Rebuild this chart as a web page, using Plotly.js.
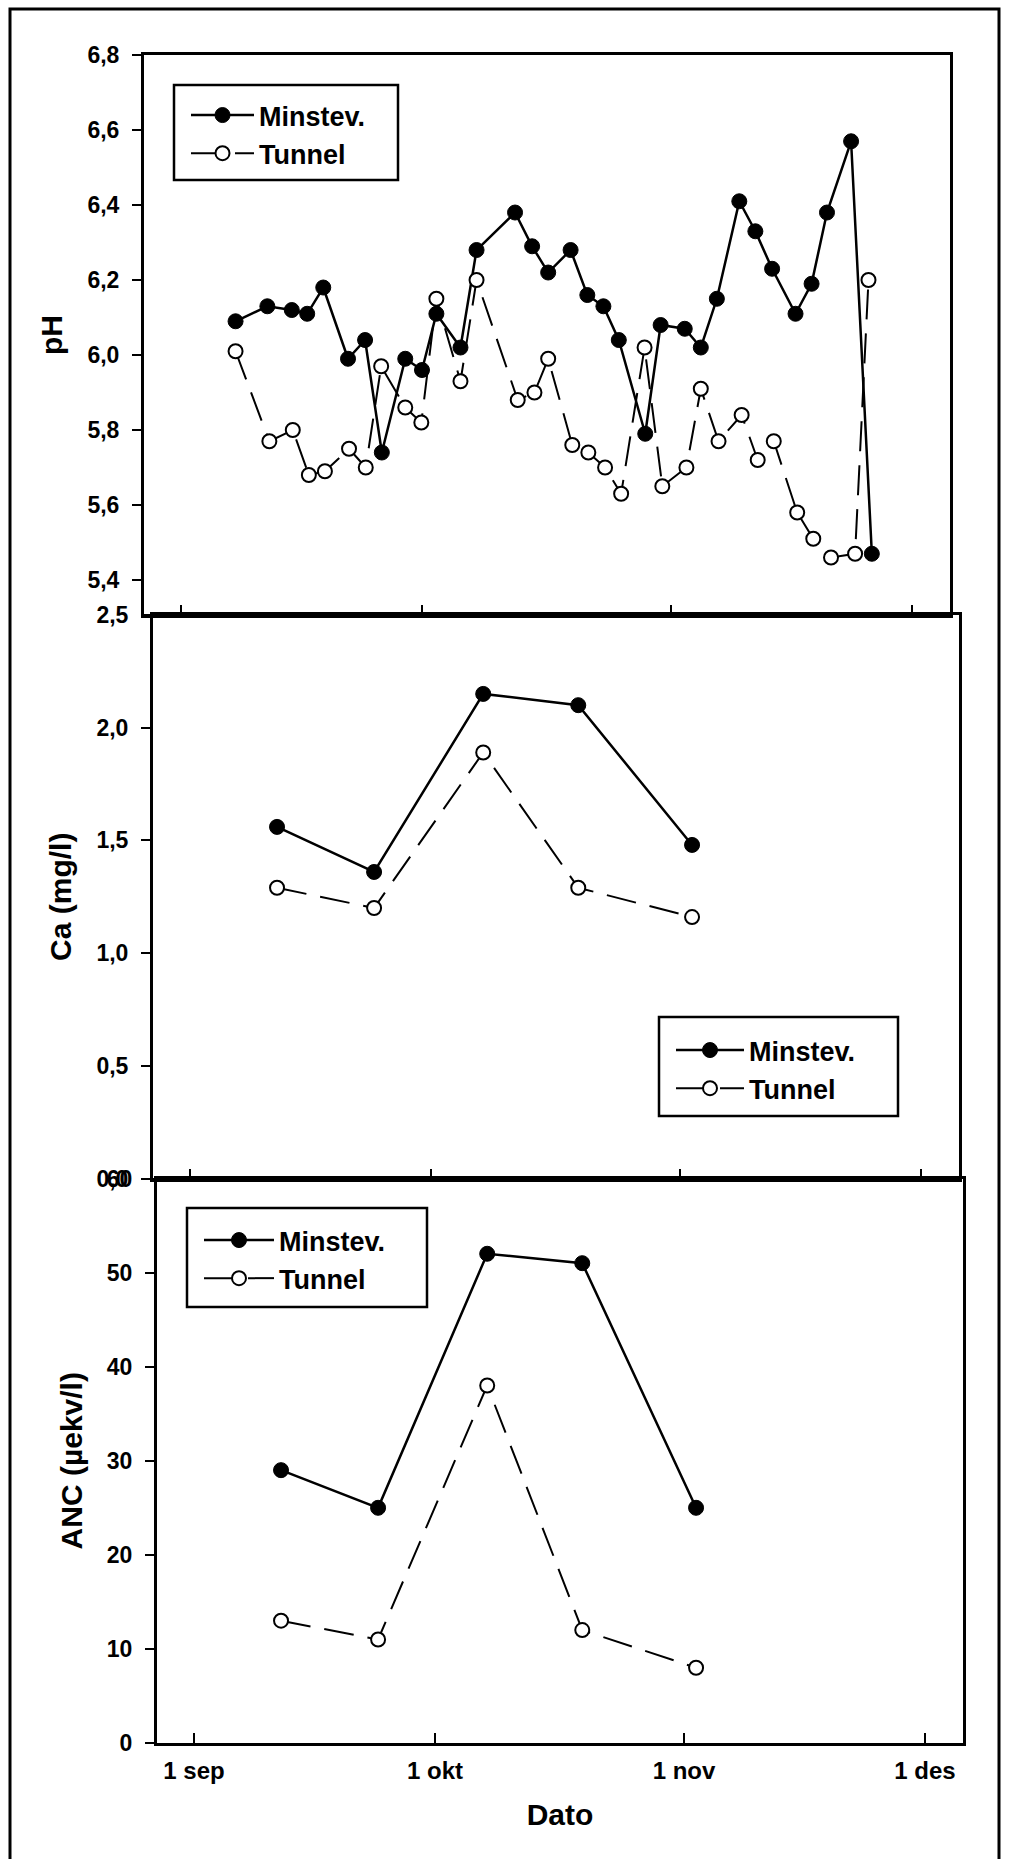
<!DOCTYPE html>
<html>
<head>
<meta charset="utf-8">
<script src="https://cdn.plot.ly/plotly-3.0.1.min.js"></script>
<style>
html,body{margin:0;padding:0;background:#fff;}
#chart{width:1011px;height:1859px;}
</style>
</head>
<body>
<div id="chart"></div>
<script>
// ---------------- data ----------------
const seriesNames = ['Minstev.', 'Tunnel'];

const phMinDates = ['1998-09-07 19:00','1998-09-11 18:00','1998-09-14 19:00','1998-09-16 17:00','1998-09-18 17:00','1998-09-21 19:00','1998-09-23 22:00','1998-09-26 00:00','1998-09-28 22:00','1998-10-01 00:00','1998-10-02 19:00','1998-10-05 19:00','1998-10-07 19:00','1998-10-12 14:00','1998-10-14 17:00','1998-10-16 17:00','1998-10-19 12:00','1998-10-21 14:00','1998-10-23 14:00','1998-10-25 12:00','1998-10-28 19:00','1998-10-30 17:00','1998-11-02 17:00','1998-11-04 17:00','1998-11-06 17:00','1998-11-09 12:00','1998-11-11 12:00','1998-11-13 14:00','1998-11-16 12:00','1998-11-18 12:00','1998-11-20 10:00','1998-11-23 10:00','1998-11-26 00:00'];
const phMinValues = [6.09,6.13,6.12,6.11,6.18,5.99,6.04,5.74,5.99,5.96,6.11,6.02,6.28,6.38,6.29,6.22,6.28,6.16,6.13,6.04,5.79,6.08,6.07,6.02,6.15,6.41,6.33,6.23,6.11,6.19,6.38,6.57,5.47];

const phTunDates = ['1998-09-07 19:00','1998-09-12 00:00','1998-09-14 22:00','1998-09-16 22:00','1998-09-18 22:00','1998-09-21 22:00','1998-09-24 00:00','1998-09-25 22:00','1998-09-28 22:00','1998-09-30 22:00','1998-10-02 19:00','1998-10-05 19:00','1998-10-07 19:00','1998-10-12 22:00','1998-10-15 00:00','1998-10-16 17:00','1998-10-19 17:00','1998-10-21 17:00','1998-10-23 19:00','1998-10-25 19:00','1998-10-28 17:00','1998-10-30 22:00','1998-11-02 22:00','1998-11-04 17:00','1998-11-06 22:00','1998-11-09 19:00','1998-11-11 19:00','1998-11-13 19:00','1998-11-16 17:00','1998-11-18 17:00','1998-11-20 22:00','1998-11-23 22:00','1998-11-25 14:00'];
const phTunValues = [6.01,5.77,5.80,5.68,5.69,5.75,5.70,5.97,5.86,5.82,6.15,5.93,6.20,5.88,5.90,5.99,5.76,5.74,5.70,5.63,6.02,5.65,5.70,5.91,5.77,5.84,5.72,5.77,5.58,5.51,5.46,5.47,6.20];

const chemDates = ['1998-09-11 20:00','1998-09-23 22:00','1998-10-07 12:00','1998-10-19 08:00','1998-11-02 12:00'];
const caMinValues = [1.56,1.36,2.15,2.10,1.48];
const caTunValues = [1.29,1.20,1.89,1.29,1.16];
const ancMinValues = [29,25,52,51,25];
const ancTunValues = [13,11,38,12,8];

const xTickVals = ['1998-09-01','1998-10-01','1998-11-01','1998-12-01'];
const xTickText = ['1 sep','1 okt','1 nov','1 des'];
const phTicks  = [5.4,5.6,5.8,6.0,6.2,6.4,6.6,6.8];
const caTicks  = [0,0.5,1.0,1.5,2.0,2.5];
const ancTicks = [0,10,20,30,40,50,60];

// ---------------- layout helpers ----------------
const W = 1011, H = 1859;
const FONT = 'Liberation Sans, Arial, Helvetica, sans-serif';
const px = v => v / W;
const py = v => 1 - v / H;

const xRange = ['1998-08-27 09:27', '1998-12-05 17:31'];

function minTrace(x, y, xa, ya, leg) {
  return {
    type: 'scatter', mode: 'lines+markers', name: seriesNames[0],
    x: x, y: y, xaxis: xa, yaxis: ya, legend: leg,
    line: {color: '#000', width: 2.5},
    marker: {symbol: 'circle', size: 15, color: '#000', line: {color: '#000', width: 1}}
  };
}
function tunTrace(x, y, xa, ya, leg) {
  return {
    type: 'scatter', mode: 'lines+markers', name: seriesNames[1],
    x: x, y: y, xaxis: xa, yaxis: ya, legend: leg,
    line: {color: '#000', width: 2, dash: '30px,14px'},
    marker: {symbol: 'circle', size: 14, color: '#fff', line: {color: '#000', width: 2}}
  };
}

const traces = [
  minTrace(phMinDates, phMinValues, 'x', 'y', 'legend'),
  tunTrace(phTunDates, phTunValues, 'x', 'y', 'legend'),
  minTrace(chemDates, caMinValues, 'x2', 'y2', 'legend2'),
  tunTrace(chemDates, caTunValues, 'x2', 'y2', 'legend2'),
  minTrace(chemDates, ancMinValues, 'x3', 'y3', 'legend3'),
  tunTrace(chemDates, ancTunValues, 'x3', 'y3', 'legend3')
];

function xAxis(left, right, anchor, showLabels, title) {
  const ax = {
    type: 'date', range: xRange, domain: [px(left), px(right)], anchor: anchor,
    tickmode: 'array', tickvals: xTickVals, ticktext: xTickText,
    ticks: 'inside', ticklen: 10, tickwidth: 2, tickcolor: '#000',
    showline: true, linewidth: 3, linecolor: '#000', mirror: true,
    showgrid: false, zeroline: false, showticklabels: showLabels,
    tickfont: {family: FONT, size: 24, color: '#000', weight: 700},
    ticklabelstandoff: 4, fixedrange: true
  };
  if (title) ax.title = {text: title, font: {family: FONT, size: 30, color: '#000', weight: 700}, standoff: 22};
  return ax;
}
function yAxis(top, bottom, anchor, range, ticks, fmt, title) {
  return {
    range: range, domain: [py(bottom), py(top)], anchor: anchor,
    tickmode: 'array', tickvals: ticks, tickformat: fmt,
    ticks: 'outside', ticklen: 9, tickwidth: 2, tickcolor: '#000',
    showline: true, linewidth: 3, linecolor: '#000', mirror: true,
    showgrid: false, zeroline: false,
    tickfont: {family: FONT, size: 23, color: '#000', weight: 700},
    ticklabelstandoff: 8, fixedrange: true,
    title: {text: title, font: {family: FONT, size: 30, color: '#000', weight: 700}, standoff: 16}
  };
}

function legendAt(x, yTop, itemwidth) {
  return {
    x: px(x), y: py(yTop), xanchor: 'left', yanchor: 'top',
    bgcolor: 'rgba(0,0,0,0)', borderwidth: 0, itemwidth: itemwidth,
    font: {family: FONT, size: 27, color: '#000', weight: 700},
    tracegroupgap: 0, itemclick: false, itemdoubleclick: false
  };
}

function rectShape(x0, y0, x1, y1, w) {
  return {type: 'rect', xref: 'paper', yref: 'paper',
    x0: px(x0), x1: px(x1), y0: py(y1), y1: py(y0),
    line: {color: '#000', width: w}, fillcolor: 'rgba(0,0,0,0)', layer: 'above'};
}

const layout = {
  width: W, height: H,
  margin: {l: 0, r: 0, t: 0, b: 0},
  paper_bgcolor: '#fff', plot_bgcolor: 'rgba(0,0,0,0)',
  separators: ',.',
  font: {family: FONT, color: '#000'},
  showlegend: true,
  xaxis:  xAxis(144, 950, 'y', false),
  xaxis2: xAxis(153, 959, 'y2', false),
  xaxis3: xAxis(157, 963, 'y3', true, 'Dato'),
  yaxis:  yAxis(55, 615, 'x', [5.3067, 6.8001], phTicks, '.1f', 'pH'),
  yaxis2: yAxis(615, 1178.5, 'x2', [0, 2.5001], caTicks, '.1f', 'Ca (mg/l)'),
  yaxis3: yAxis(1178.5, 1743, 'x3', [0, 60.001], ancTicks, 'd', 'ANC (µekv/l)'),
  legend:  legendAt(186, 91, 63),
  legend2: legendAt(671, 1026, 68),
  legend3: legendAt(199, 1216, 70),
  shapes: [
    rectShape(10, 9, 999, 1880, 3),
    rectShape(174, 85, 398, 180, 2.5),
    rectShape(659, 1017, 898, 1116, 2.5),
    rectShape(187, 1208, 427, 1307, 2.5)
  ]
};

Plotly.newPlot('chart', traces, layout, {displayModeBar: false, staticPlot: true});
</script>
</body>
</html>
